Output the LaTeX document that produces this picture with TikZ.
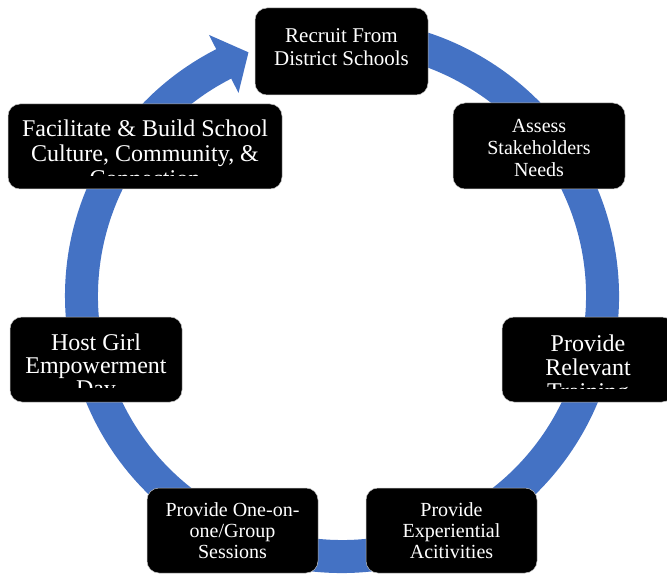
\documentclass[tikz,border=0pt]{standalone}
\usepackage{fontspec}
\setmainfont{Liberation Serif}
\definecolor{ringblue}{HTML}{4472C4}
\begin{document}
\begin{tikzpicture}[x=1pt,y=1pt,
  boxbase/.style={fill=black, draw=gray!50, line width=0.5pt, rounded corners=12pt, inner sep=0pt},
  lbl/.style={text=white, align=center, inner sep=0pt}]
\useasboundingbox (0,0) rectangle (667,574);
% ring with arrow head
\begin{scope}[shift={(342,278)}]
\fill[ringblue] (100:277) arc[start angle=100, end angle=-243, radius=277]
  -- (-243:293) -- (-249:261) -- (-243:228) -- (-243:244)
  arc[start angle=-243, end angle=100, radius=244] -- cycle;
\end{scope}
% boxes
\node[boxbase, minimum width=173, minimum height=87] (b1) at (341.5,522.5) {};
\node[boxbase, minimum width=172, minimum height=86] (b2) at (539,428) {};
\node[boxbase, minimum width=274, minimum height=85] (b3) at (145,427.5) {};
\node[boxbase, minimum width=172, minimum height=85] (b4) at (588,214.5) {};
\node[boxbase, minimum width=172, minimum height=85] (b5) at (96,214.5) {};
\node[boxbase, minimum width=171, minimum height=85] (b6) at (232.5,43.5) {};
\node[boxbase, minimum width=171, minimum height=85] (b7) at (451.5,43.5) {};
% texts
\node[lbl, font=\fontsize{21}{23}\selectfont] (t1) at (341.5,526.5) {Recruit From\\District Schools};
\node[lbl, font=\fontsize{20}{22}\selectfont] (t2) at (539,426) {Assess\\Stakeholders\\Needs};
\begin{scope}
\clip (8,398) rectangle (282,470);
\node[lbl, font=\fontsize{24}{25}\selectfont] (t3) at (145,421) {Facilitate \& Build School\\Culture, Community, \&\\Connection};
\end{scope}
\begin{scope}
\clip (502,186) rectangle (674,257);
\node[lbl, font=\fontsize{24}{24}\selectfont] (t4) at (588,204) {Provide\\Relevant\\Training};
\end{scope}
\begin{scope}
\clip (10,187) rectangle (182,257);
\node[lbl, font=\fontsize{24}{23}\selectfont] (t5) at (96,206) {Host Girl\\Empowerment\\Day};
\end{scope}
\node[lbl, font=\fontsize{20}{21}\selectfont] (t6) at (232.5,43) {Provide One-on-\\one/Group\\Sessions};
\node[lbl, font=\fontsize{20}{21}\selectfont] (t7) at (451.5,43) {Provide\\Experiential\\Acitivities};
\end{tikzpicture}
\end{document}
